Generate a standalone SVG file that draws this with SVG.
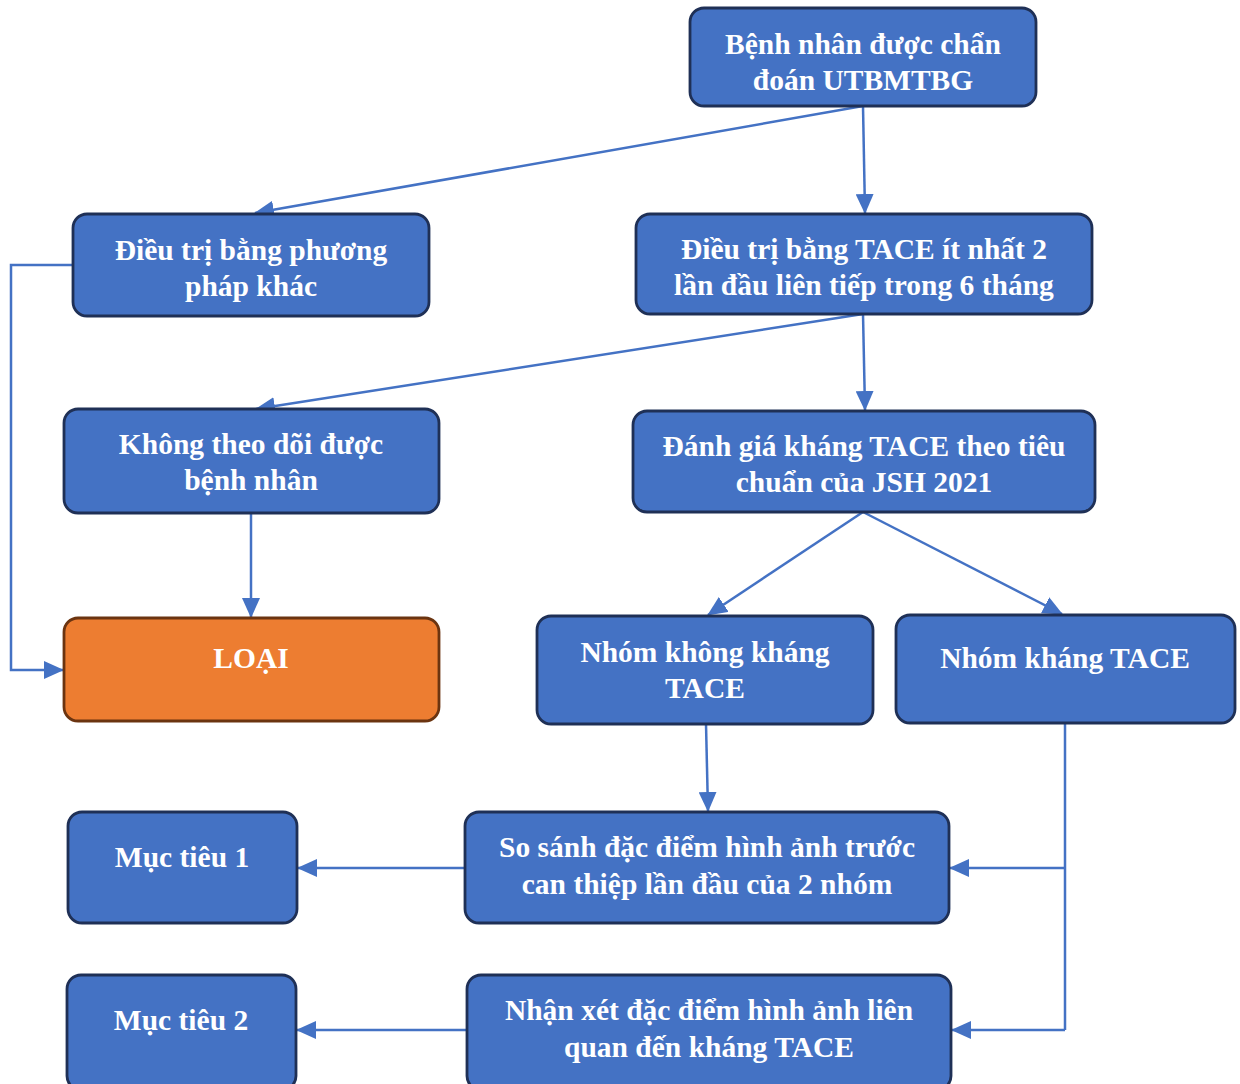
<svg xmlns="http://www.w3.org/2000/svg" width="1240" height="1084" viewBox="0 0 1240 1084">
<style>
.box{fill:#4472C4;stroke:#1F3056;stroke-width:2.8}
.rej{fill:#ED7D31;stroke:#6B3410;stroke-width:2.8}
.t{font-family:"Liberation Serif","Times New Roman",serif;font-weight:bold;font-size:29.5px;fill:#fff;text-anchor:middle}
.c{fill:none;stroke:#4472C4;stroke-width:2.5}
</style>
<defs>
<marker id="ah" markerUnits="userSpaceOnUse" markerWidth="20" markerHeight="18" refX="19" refY="9" orient="auto">
<path d="M0,0 L20,9 L0,18 Z" fill="#4472C4"/>
</marker>
</defs>
<rect width="1240" height="1084" fill="#fff"/>
<g id="connectors">
<path class="c" d="M863,106 L865,213" marker-end="url(#ah)"/>
<path class="c" d="M863,106 L255,213" marker-end="url(#ah)"/>
<path class="c" d="M73,265 L11,265 L11,670 L63,670" marker-end="url(#ah)"/>
<path class="c" d="M863,314 L865,410" marker-end="url(#ah)"/>
<path class="c" d="M863,314 L256,409" marker-end="url(#ah)"/>
<path class="c" d="M251,513 L251,617" marker-end="url(#ah)"/>
<path class="c" d="M863,512 L708,615" marker-end="url(#ah)"/>
<path class="c" d="M863,512 L1062,614" marker-end="url(#ah)"/>
<path class="c" d="M706,724 L708,811" marker-end="url(#ah)"/>
<path class="c" d="M1065,723 L1065,1030"/>
<path class="c" d="M1065,868 L950,868" marker-end="url(#ah)"/>
<path class="c" d="M1065,1030 L952,1030" marker-end="url(#ah)"/>
<path class="c" d="M465,868 L298,868" marker-end="url(#ah)"/>
<path class="c" d="M467,1030 L297,1030" marker-end="url(#ah)"/>
</g>
<g id="n1"><rect class="box" x="690" y="8" width="346" height="98" rx="14"/>
<text class="t" x="863" y="54">Bệnh nhân được chẩn</text><text class="t" x="863" y="90">đoán UTBMTBG</text></g>
<g id="n2"><rect class="box" x="73" y="214" width="356" height="102" rx="14"/>
<text class="t" x="251" y="260">Điều trị bằng phương</text><text class="t" x="251" y="296">pháp khác</text></g>
<g id="n3"><rect class="box" x="636" y="214" width="456" height="100" rx="14"/>
<text class="t" x="864" y="259">Điều trị bằng TACE ít nhất 2</text><text class="t" x="864" y="295">lần đầu liên tiếp trong 6 tháng</text></g>
<g id="n4"><rect class="box" x="64" y="409" width="375" height="104" rx="14"/>
<text class="t" x="251" y="454">Không theo dõi được</text><text class="t" x="251" y="490">bệnh nhân</text></g>
<g id="n5"><rect class="box" x="633" y="411" width="462" height="101" rx="14"/>
<text class="t" x="864" y="456">Đánh giá kháng TACE theo tiêu</text><text class="t" x="864" y="492">chuẩn của JSH 2021</text></g>
<g id="n6"><rect class="rej" x="64" y="618" width="375" height="103" rx="14"/>
<text class="t" x="251" y="668">LOẠI</text></g>
<g id="n7"><rect class="box" x="537" y="616" width="336" height="108" rx="14"/>
<text class="t" x="705" y="662">Nhóm không kháng</text><text class="t" x="705" y="698">TACE</text></g>
<g id="n8"><rect class="box" x="896" y="615" width="339" height="108" rx="14"/>
<text class="t" x="1065" y="668">Nhóm kháng TACE</text></g>
<g id="n9"><rect class="box" x="465" y="812" width="484" height="111" rx="14"/>
<text class="t" x="707" y="857">So sánh đặc điểm hình ảnh trước</text><text class="t" x="707" y="894">can thiệp lần đầu của 2 nhóm</text></g>
<g id="n10"><rect class="box" x="68" y="812" width="229" height="111" rx="14"/>
<text class="t" x="182" y="867">Mục tiêu 1</text></g>
<g id="n11"><rect class="box" x="467" y="975" width="484" height="115" rx="14"/>
<text class="t" x="709" y="1020">Nhận xét đặc điểm hình ảnh liên</text><text class="t" x="709" y="1057">quan đến kháng TACE</text></g>
<g id="n12"><rect class="box" x="67" y="975" width="229" height="115" rx="14"/>
<text class="t" x="181" y="1030">Mục tiêu 2</text></g>
</svg>
